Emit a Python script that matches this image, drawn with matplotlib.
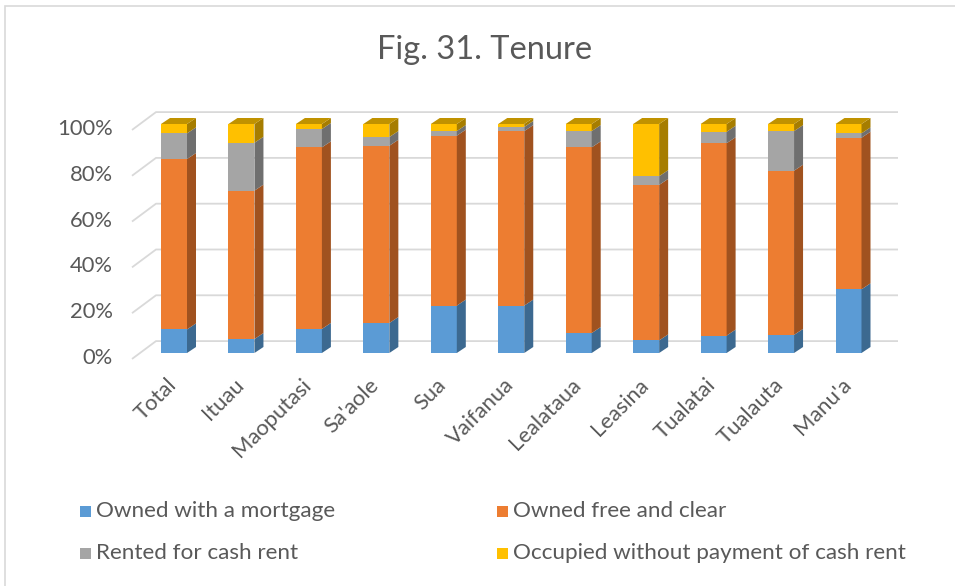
import matplotlib.pyplot as plt
from matplotlib.patches import Polygon, Rectangle
from matplotlib.transforms import ScaledTranslation

CATEGORIES = ["Total", "Ituau", "Maoputasi", "Sa'aole", "Sua", "Vaifanua",
              "Lealataua", "Leasina", "Tualatai", "Tualauta", "Manu'a"]
SERIES = ["Owned with a mortgage", "Owned free and clear",
          "Rented for cash rent", "Occupied without payment of cash rent"]
MORTGAGE = [10.3, 6.1, 10.5, 13.1, 20.7, 20.7, 8.7, 5.5, 7.6, 7.9, 27.8]
FREE_CLEAR = [74.4, 64.8, 79.3, 77.4, 74.2, 76.2, 81.1, 67.9, 84.0, 71.7, 66.2]
RENTED = [11.2, 20.9, 8.0, 3.8, 2.0, 1.8, 7.1, 3.8, 5.0, 17.3, 1.9]
OCCUPIED = [4.1, 8.2, 2.2, 5.7, 3.1, 1.3, 3.1, 22.8, 3.4, 3.1, 4.1]
Y_TICKS = [0, 20, 40, 60, 80, 100]

FRONT = ["#5B9BD5", "#ED7D31", "#A5A5A5", "#FFC000"]
SIDE = ["#3C6990", "#A0521F", "#6F6F6F", "#A67D00"]
TOP = ["#4A80B0", "#C0651F", "#8A8A8A", "#C09200"]
TEXT = "#595959"
GRID = "#D9D9D9"

W, H = 955, 586
# pixel geometry of the plot (front plane)
X0_PX, STEP_PX = 174, 67.45
Y0_PX, PCT_PX = 353, 2.29
AX_L, AX_R, AX_T, AX_B = 120, 935, 100, 364
BAR_W = 26 / STEP_PX
DX, DY = 9 / STEP_PX, 6 / PCT_PX


def px_x(px):
    return (px - X0_PX) / STEP_PX


def px_y(py):
    return (Y0_PX - py) / PCT_PX


plt.rcParams["font.family"] = ["Lato", "DejaVu Sans"]

fig = plt.figure(figsize=(W / 100, H / 100), dpi=100)
fig.patch.set_facecolor("white")
fig.patches.append(Rectangle((5 / W, -0.01), 1.0, 1.0 - 6 / H + 0.01,
                             transform=fig.transFigure, fill=False,
                             edgecolor=GRID, linewidth=1.2))

ax = fig.add_axes([AX_L / W, 1 - AX_B / H, (AX_R - AX_L) / W, (AX_B - AX_T) / H])
ax.set_xlim(px_x(AX_L), px_x(AX_R))
ax.set_ylim(px_y(AX_B), px_y(AX_T))
for s in ax.spines.values():
    s.set_visible(False)
ax.patch.set_alpha(0)

# 3D-looking gridlines: diagonal floor edge then back wall
gx0, gx1, gx2 = px_x(132), px_x(156), px_x(898)
for v in Y_TICKS:
    ax.plot([gx0, gx1, gx2], [v - 2.6, v + 5.2, v + 5.2], color=GRID,
            linewidth=1.3, zorder=0, solid_capstyle="butt")

series_vals = [MORTGAGE, FREE_CLEAR, RENTED, OCCUPIED]
x = list(range(len(CATEGORIES)))
bottoms = [0.0] * len(CATEGORIES)
for k, vals in enumerate(series_vals):
    ax.bar(x, vals, BAR_W, bottom=bottoms, color=FRONT[k], linewidth=0, zorder=3)
    for i, v in enumerate(vals):
        b, t = bottoms[i], bottoms[i] + v
        xr = i + BAR_W / 2
        ax.add_patch(Polygon([(xr, b), (xr + DX, b + DY), (xr + DX, t + DY), (xr, t)],
                             closed=True, facecolor=SIDE[k], linewidth=0, zorder=3))
        if k == len(series_vals) - 1:
            xl = i - BAR_W / 2
            ax.add_patch(Polygon([(xl, t), (xr, t), (xr + DX, t + DY), (xl + DX, t + DY)],
                                 closed=True, facecolor=TOP[k], linewidth=0, zorder=3))
    bottoms = [b + v for b, v in zip(bottoms, vals)]

ax.set_yticks(Y_TICKS)
ax.set_yticklabels([f"{v}%" for v in Y_TICKS])
ax.set_xticks(x)
ax.set_xticklabels(CATEGORIES)
ax.tick_params(axis="both", length=0, labelsize=15.8, labelcolor=TEXT)
ax.tick_params(axis="y", pad=5)
ax.tick_params(axis="x", pad=4)
x_shift = ScaledTranslation(-8 / 100, -5 / 100, fig.dpi_scale_trans)
y_shift = ScaledTranslation(0, -3 / 100, fig.dpi_scale_trans)
for lab in ax.get_xticklabels():
    lab.set_rotation(45)
    lab.set_ha("right")
    lab.set_va("top")
    lab.set_rotation_mode("anchor")
    lab.set_transform(lab.get_transform() + x_shift)
for lab in ax.get_yticklabels():
    lab.set_transform(lab.get_transform() + y_shift)

fig.text(485 / W, 1 - 50 / H, "Fig. 31. Tenure", ha="center", va="center",
         fontsize=23.5, color=TEXT)

# legend, two columns
leg_pos = [(80, 511), (497, 511), (80, 553), (497, 553)]
for k, (lx, ly) in enumerate(leg_pos):
    fig.patches.append(Rectangle((lx / W, 1 - (ly + 5.5) / H), 11 / W, 11 / H,
                                 transform=fig.transFigure, facecolor=FRONT[k],
                                 linewidth=0))
    fig.text((lx + 16) / W, 1 - ly / H, SERIES[k], ha="left", va="center",
             fontsize=16.2, color=TEXT)

fig.savefig("out.png", dpi=100)
